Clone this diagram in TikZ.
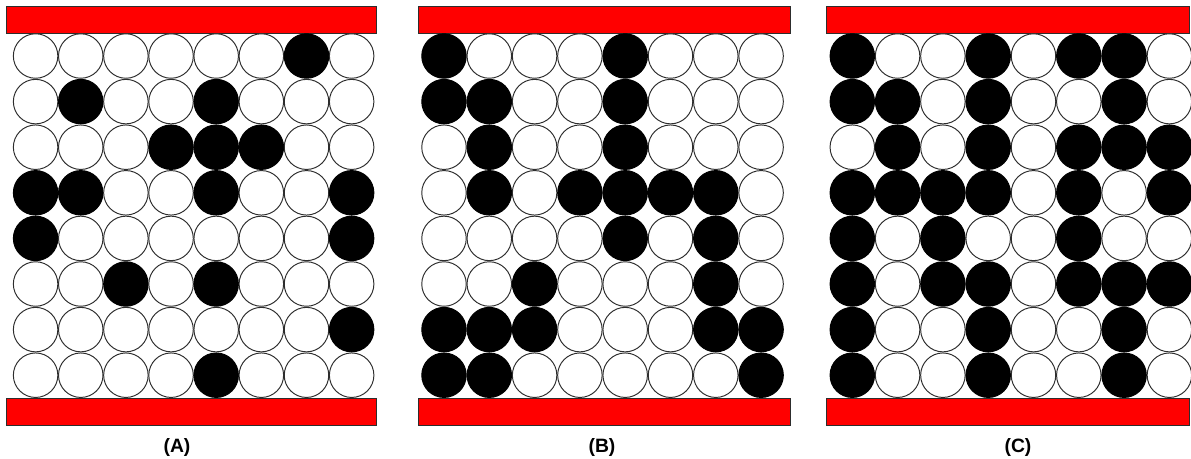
\documentclass[tikz,border=0pt]{standalone}
\usepackage{fontspec}
\setmainfont{Liberation Sans}
\usepackage{xcolor}
\definecolor{barred}{RGB}{255,0,0}
\definecolor{rimgray}{RGB}{45,45,45}
\usepackage{tikz}

\begin{document}
\begin{tikzpicture}[x=0.02cm,y=-0.02cm,
bar/.style={draw=rimgray,line width=0.5pt,fill=barred,minimum height=0.54cm,inner sep=0pt},
bead0/.style={circle,draw=rimgray,line width=0.55pt,fill=white,minimum size=0.89cm,inner sep=0pt},
bead1/.style={bead0,fill=black,draw=black},
tag/.style={font=\fontsize{11}{13}\selectfont\bfseries,inner sep=0pt}]
\useasboundingbox (0,0) rectangle (1191,458);
% electrodes
\node[bar,minimum width=7.40cm] (topA) at (191.8,19.5) {};
\node[bar,minimum width=7.40cm] (botA) at (191.8,411.5) {};
\node[bar,minimum width=7.45cm] (topB) at (604.5,19.5) {};
\node[bar,minimum width=7.45cm] (botB) at (604.5,411.5) {};
\node[bar,minimum width=7.25cm] (topC) at (1007.9,19.5) {};
\node[bar,minimum width=7.25cm] (botC) at (1007.9,411.5) {};
% panel A
\foreach \bits [count=\r] in {{0,0,0,0,0,0,1,0},{0,1,0,0,1,0,0,0},{0,0,0,1,1,1,0,0},{1,1,0,0,1,0,0,1},
  {1,0,0,0,0,0,0,1},{0,0,1,0,1,0,0,0},{0,0,0,0,0,0,0,1},{0,0,0,0,1,0,0,0}}
  \foreach \b [count=\c] in \bits
    \node[bead\b] (A-\r-\c) at ({35.6+(\c-1)*45.15},{56+(\r-1)*45.6}) {};
% panel B
\foreach \bits [count=\r] in {{1,0,0,0,1,0,0,0},{1,1,0,0,1,0,0,0},{0,1,0,0,1,0,0,0},{0,1,0,1,1,1,1,0},
  {0,0,0,0,1,0,1,0},{0,0,1,0,0,0,1,0},{1,1,1,0,0,0,1,1},{1,1,0,0,0,0,0,1}}
  \foreach \b [count=\c] in \bits
    \node[bead\b] (B-\r-\c) at ({444+(\c-1)*45.3},{56+(\r-1)*45.6}) {};
% panel C
\foreach \bits [count=\r] in {{1,0,0,1,0,1,1,0},{1,1,0,1,0,0,1,0},{0,1,0,1,0,1,1,1},{1,1,1,1,0,1,0,1},
  {1,0,1,0,0,1,0,0},{1,0,1,1,0,1,1,1},{1,0,0,1,0,0,1,0},{1,0,0,1,0,0,1,0}}
  \foreach \b [count=\c] in \bits
    \node[bead\b] (C-\r-\c) at ({852.3+(\c-1)*45.3},{56+(\r-1)*45.6}) {};
% captions
\node[tag] (labA) at (177,447) {(A)};
\node[tag] (labB) at (602,447) {(B)};
\node[tag] (labC) at (1018,447) {(C)};
\end{tikzpicture}
\end{document}
